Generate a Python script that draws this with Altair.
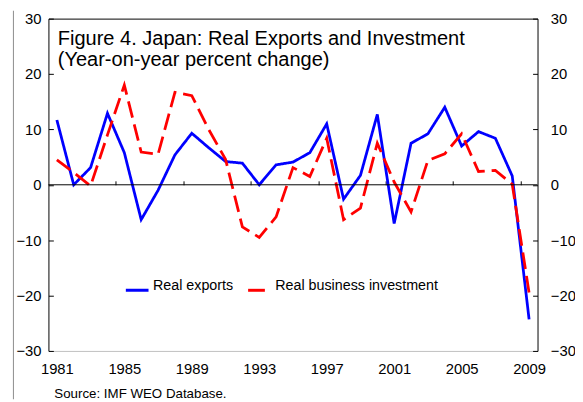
import altair as alt
import pandas as pd

years = list(range(1981, 2010))
exports = [11.7, 0.0, 3.1, 12.9, 5.8, -6.3, -1.0, 5.4, 9.3, 6.7, 4.2, 3.9, 0.0, 3.6,
           4.1, 5.8, 11.0, -2.6, 1.7, 12.7, -7.0, 7.5, 9.2, 14.0, 7.0, 9.6, 8.4, 1.6, -24.3]
investment = [4.5, 2.2, -0.2, 9.0, 18.0, 5.9, 5.5, 16.7, 16.1, 10.0, 4.6, -7.6, -9.5, -5.8,
              3.1, 1.5, 8.4, -6.3, -4.2, 7.5, 0.5, -4.9, 4.4, 5.6, 9.2, 2.4, 2.6, 0.1, -19.5]
series_names = ["Real exports", "Real business investment"]
x_labels = [1981, 1985, 1989, 1993, 1997, 2001, 2005, 2009]
x_ticks = [1984.5, 1988.5, 1992.5, 1996.5, 2000.5, 2004.5, 2008.5]
y_ticks = [-30, -20, -10, 0, 10, 20, 30]
title_lines = ["Figure 4. Japan: Real Exports and Investment", "(Year-on-year percent change)"]
source_text = "Source: IMF WEO Database."

W, H = 496, 337
FONT = "Liberation Sans"

rows = []
for name, vals in zip(series_names, [exports, investment]):
    for yr, v in zip(years, vals):
        rows.append({"year": yr, "value": v, "series": name})
df = pd.DataFrame(rows)
one = pd.DataFrame({"k": [0]})

xdom = alt.Scale(domain=[1980.5, 2009.5], nice=False, zero=False)
ydom = alt.Scale(domain=[-30, 30], nice=False, zero=False)

leg = alt.Legend(title=None, orient="none", legendX=77, legendY=262.5, direction="horizontal",
                 symbolType="stroke", symbolSize=529, symbolStrokeWidth=3,
                 labelFont=FONT, labelFontSize=14.5, labelColor="black", labelOffset=3,
                 columnPadding=8, padding=0, labelBaseline="alphabetic", labelLimit=0)

lines = alt.Chart(df).mark_line(strokeWidth=2.8, strokeCap="butt").encode(
    x=alt.X("year:Q", scale=xdom,
            axis=alt.Axis(orient="bottom", values=x_labels, format="d", ticks=False,
                          domainColor="#BFBFBF", labelPadding=11, title=None, labelFlush=False)),
    y=alt.Y("value:Q", scale=ydom,
            axis=alt.Axis(orient="left", values=y_ticks, ticks=False, labelPadding=7.5,
                          domainColor="black", title=None)),
    color=alt.Color("series:N", scale=alt.Scale(domain=series_names, range=["#0000FF", "#FF0000"]),
                    legend=leg),
    strokeDash=alt.StrokeDash("series:N", scale=alt.Scale(domain=series_names, range=[[1, 0], [17, 7]]),
                              legend=leg),
    order=alt.Order("year:Q"),
)

zero_rule = alt.Chart(one).mark_rule(color="black", strokeWidth=1).encode(
    x=alt.X(datum=1980.5, type="quantitative", scale=xdom,
            axis=alt.Axis(orient="top", offset=-H / 2, values=x_ticks, labels=False, domain=False,
                          ticks=True, tickSize=4, tickColor="black", title=None)),
    x2=alt.X2(datum=2009.5),
    y=alt.Y(datum=0, type="quantitative", scale=ydom,
            axis=alt.Axis(orient="right", values=y_ticks, ticks=False, labelPadding=13,
                          domainColor="black", title=None)),
)

frame_top = alt.Chart(one).mark_rule(opacity=0).encode(
    x=alt.X(datum=1980.5, type="quantitative", scale=xdom,
            axis=alt.Axis(orient="top", labels=False, ticks=False, domain=True,
                          domainColor="black", title=None)),
    x2=alt.X2(datum=2009.5),
    y=alt.Y(datum=0, type="quantitative", scale=ydom,
            axis=alt.Axis(orient="right", offset=-W, values=y_ticks, labels=False, domain=False,
                          ticks=True, tickSize=5, tickColor="black", title=None)),
)

right_ticks = alt.Chart(one).mark_rule(opacity=0).encode(
    x=alt.X(datum=1980.5, type="quantitative", scale=xdom, axis=None),
    x2=alt.X2(datum=2009.5),
    y=alt.Y(datum=0, type="quantitative", scale=ydom,
            axis=alt.Axis(orient="left", offset=-W, values=y_ticks, labels=False, domain=False,
                          ticks=True, tickSize=5, tickColor="black", title=None)),
)

border = alt.Chart(one).mark_rule(color="#8C8C8C", strokeWidth=1).encode(
    x=alt.value(-35.5), y=alt.value(-8), y2=alt.value(H + 49)
)

title_txt = alt.Chart(one).mark_text(
    text=title_lines, align="left", baseline="alphabetic", font=FONT, fontSize=20.3,
    lineHeight=22, color="black"
).encode(x=alt.value(9.5), y=alt.value(26.5))

source_txt = alt.Chart(one).mark_text(
    text=source_text, align="left", baseline="alphabetic", font=FONT, fontSize=13.5, color="black"
).encode(x=alt.value(6), y=alt.value(384.5))

chart = alt.layer(border, lines, zero_rule, frame_top, right_ticks, title_txt, source_txt).resolve_scale(
    x="independent", y="independent"
).properties(
    width=W, height=H,
    padding={"left": 41, "top": 8, "right": 38, "bottom": 49},
    autosize=alt.AutoSizeParams(type="none"),
).configure_view(stroke=None).configure_axis(
    labelFont=FONT, labelFontSize=15, labelColor="black", grid=False, domainWidth=1, tickWidth=1
)

chart.save("out.html", embed_options={"renderer": "svg", "actions": False})
